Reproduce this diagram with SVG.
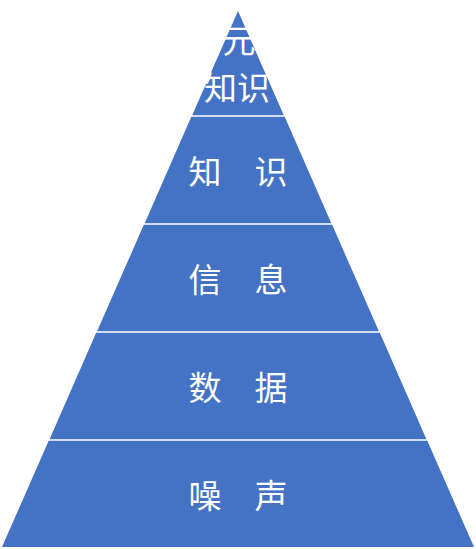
<svg xmlns="http://www.w3.org/2000/svg" width="476" height="549" viewBox="0 0 476 549">
<style>
.band{fill:#4472C4}
.lbl{fill:#FFFFFF;font-family:"Noto Sans CJK SC","Noto Sans",sans-serif;font-size:33px;text-anchor:middle;dominant-baseline:central}
</style>
<rect width="476" height="549" fill="#FFFFFF"/>
<g id="meta-knowledge">
<polygon class="band" points="238,11 283.8,115.2 192.2,115.2"/>
<text class="lbl" x="239" y="39">元</text>
<text class="lbl" x="237" y="86">知识</text>
</g>
<g id="knowledge">
<polygon class="band" points="191.3,116.8 284.7,116.8 331.3,223.2 144.7,223.2"/>
<text class="lbl" x="238" y="170">知　识</text>
</g>
<g id="information">
<polygon class="band" points="143.8,224.8 332.2,224.8 378.9,331.2 97.1,331.2"/>
<text class="lbl" x="238" y="278">信　息</text>
</g>
<g id="data">
<polygon class="band" points="96.2,332.8 379.8,332.8 426.4,439.2 49.6,439.2"/>
<text class="lbl" x="238" y="386">数　据</text>
</g>
<g id="noise">
<polygon class="band" points="48.7,440.8 427.3,440.8 474,547 2,547"/>
<text class="lbl" x="238" y="494">噪　声</text>
</g>
<g id="connectors"></g>
</svg>
